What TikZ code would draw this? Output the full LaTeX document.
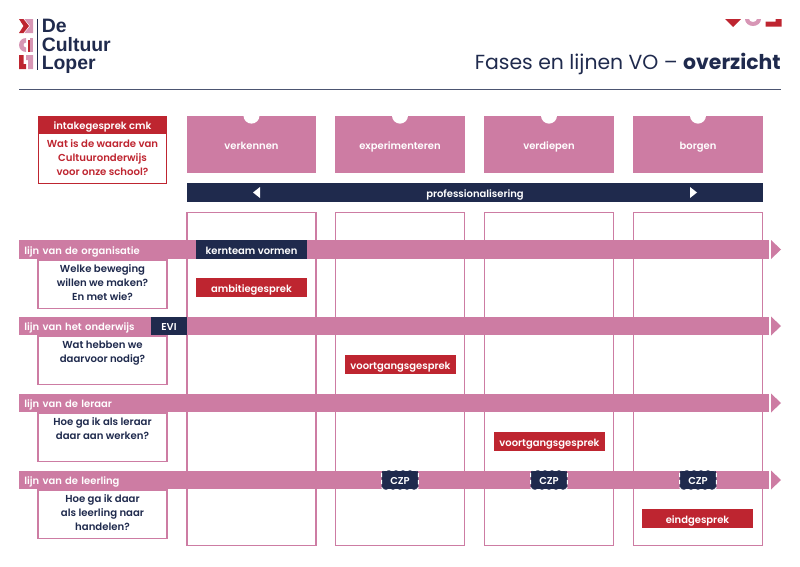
\documentclass[tikz,border=0pt]{standalone}
\usepackage{fontspec}
\setmainfont{Poppins}[BoldFont={Poppins SemiBold}]
\newfontfamily\logofont{Liberation Sans}
\definecolor{navy}{HTML}{1F2A4D}
\definecolor{roze}{HTML}{CD7CA3}
\definecolor{rood}{HTML}{BE2530}
\tikzset{
	block/.style={inner sep=0pt, text=white, text height=8pt, text depth=1.5pt, font=\fontsize{7.1}{9}\selectfont\bfseries, align=center},
	fase/.style={block, fill=roze, minimum width=3.24cm, minimum height=1.43cm},
	kolom/.style={draw=roze, line width=1.1pt, minimum width=3.22cm, minimum height=8.33cm, inner sep=0pt},
	lijn/.style={block, fill=roze, anchor=west, minimum width=18.75cm, minimum height=0.46cm, text width=18.5cm, align=left},
	vraag/.style={draw=roze, line width=1.1pt, minimum width=3.22cm, minimum height=1.22cm, anchor=north, text=navy, font=\fontsize{7.2}{9.9}\selectfont\bfseries, align=center, inner sep=0pt},
	gesprek/.style={block, fill=rood, minimum width=2.78cm, minimum height=0.47cm},
	czp/.style={block, fill=navy, draw=white, densely dashed, rounded corners=2pt, line width=0.6pt, minimum width=0.92cm, minimum height=0.48cm},
	logotekst/.style={anchor=base west, inner sep=0pt, text=navy, font=\fontsize{13.8}{13}\logofont\bfseries},
}
\begin{document}
\begin{tikzpicture}[x=0.025cm, y=-0.025cm]
	\useasboundingbox (0, 0) rectangle (800, 566);

	% logo
	\fill[rood] (19, 19)--(23.5, 19)--(29, 26)--(23.5, 33)--(19, 33)--(23.5, 26)--cycle;
	\fill[roze!80!white] (24.5, 19)--(33, 19)--(33, 33)--(24.5, 33)--(30, 26)--cycle;
	\fill[roze!80!white] (26, 52) arc (90:270:7)--(26, 42.5) arc (270:90:2.5)--cycle;
	\fill[rood] (27.5, 40) rectangle (30, 52);
	\fill[roze!80!white] (30, 38) rectangle (33, 52);
	\fill[rood] (19, 55)--(23.5, 55)--(23.5, 64)--(26, 64)--(26, 69)--(19, 69)--cycle;
	\fill[roze!80!white] (26, 55)--(33, 55)--(33, 69)--(28, 69)--(28, 60)--(26, 60)--cycle;
	\draw[navy, line width=0.5pt] (37.5, 19)--(37.5, 70);
	\node[logotekst] (logoa) at (41.5, 32) {De};
	\node[logotekst] (logob) at (41.5, 51) {Cultuur};
	\node[logotekst] (logoc) at (41.5, 69) {Loper};

	% rechtsboven
	\fill[rood] (725, 19)--(741, 19)--(733, 27)--cycle;
	\fill[roze!80!white] (745, 19) arc (180:0:8 and 7)--(757, 19) arc (0:180:4 and 3)--cycle;
	\fill[rood] (765.5, 26.5)--(765.5, 21.5)--(775.5, 21.5)--(775.5, 19)--(781.5, 19)--(781.5, 26.5)--cycle;

	% titel
	\node[anchor=base east, inner sep=0pt, text=navy, font=\fontsize{14.5}{18}\selectfont] (titel) at (781, 69.5) {Fases en lijnen VO -- {\fontspec{Poppins}\bfseries overzicht}};
	\coordinate (streepL) at (19, 89);
	\coordinate (streepR) at (781, 89);
	\draw[navy!80, line width=0.7pt] (streepL)--(streepR);

	% intake
	\node[draw=rood, line width=1.1pt, minimum width=3.2cm, minimum height=1.67cm, inner sep=0pt] (intake) at (102.5, 150) {};
	\node[block, fill=rood, minimum width=3.22cm, minimum height=0.45cm] (intakekop) at (102.5, 125) {intakegesprek cmk};
	\node[text=rood, font=\fontsize{7.2}{9.9}\selectfont\bfseries, align=center, inner sep=0pt] (intakevraag) at (102.5, 157.5) {Wat is de waarde van\\Cultuuronderwijs\\voor onze school?};

	% fases en kolommen
	\foreach \x/\naam/\tekst in {251.5/a/verkennen, 400/b/experimenteren, 549/c/verdiepen, 698/d/borgen} {
		\node[kolom] (kolom\naam) at (\x, 379) {};
		\node[fase] (fase\naam) at (\x, 144.5) {\tekst};
		\fill[white] (fase\naam.north) circle (8);
	}

	% professionalisering
	\node[block, fill=navy, minimum width=14.4cm, minimum height=0.48cm] (prof) at (475, 192.5) {professionalisering};
	\fill[white] (260, 187)--(260, 198)--(253, 192.5)--cycle;
	\fill[white] (690, 187)--(690, 198)--(697, 192.5)--cycle;

	% lijnen
	\foreach \y/\naam/\tekst in {249.5/org/lijn van de organisatie, 326/ond/lijn van het onderwijs, 403/ler/lijn van de leraar, 480/lee/lijn van de leerling} {
		\node[lijn] (lijn\naam) at (19, \y) {\tekst};
		\fill[roze] (771, \y-9.5)--(781, \y)--(771, \y+9.5)--cycle;
	}

	% vragen
	\node[vraag, text depth=0.1cm] (vraagorg) at (102.5, 259) {Welke beweging\\willen we maken?\\En met wie?};
	\node[vraag, text depth=0.42cm] (vraagond) at (102.5, 335) {Wat hebben we\\daarvoor nodig?};
	\node[vraag, text depth=0.42cm] (vraagler) at (102.5, 412) {Hoe ga ik als leraar\\daar aan werken?};
	\node[vraag, text depth=0.1cm] (vraaglee) at (102.5, 489) {Hoe ga ik daar\\als leerling naar\\handelen?};

	% gesprekken
	\node[gesprek, fill=navy] (kernteam) at (251.5, 249.5) {kernteam vormen};
	\node[gesprek] (ambitie) at (251.5, 287.5) {ambitiegesprek};
	\node[block, fill=navy, minimum width=0.9cm, minimum height=0.46cm] (evi) at (169, 326) {EVI};
	\node[gesprek] (voortgangb) at (400.5, 364.5) {voortgangsgesprek};
	\node[gesprek] (voortgangc) at (549.5, 441.5) {voortgangsgesprek};
	\node[gesprek] (eind) at (697.5, 518.5) {eindgesprek};

	% czp
	\foreach \x/\naam in {400/b, 549/c, 698/d}
		\node[czp] (czp\naam) at (\x, 480) {CZP};
\end{tikzpicture}
\end{document}
